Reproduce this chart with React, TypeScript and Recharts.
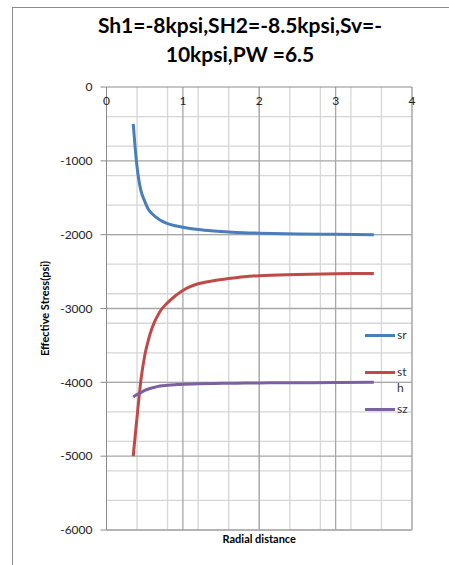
import { LineChart, Line, XAxis, YAxis, CartesianGrid, Legend, ReferenceLine } from "recharts";

// radial distance (x) and effective stresses (psi)
const radius = [0.35, 0.375, 0.4, 0.425, 0.45, 0.5, 0.55, 0.6, 0.7, 0.8, 0.9, 1.0, 1.2, 1.4, 1.6, 1.8, 2.0, 2.5, 3.0, 3.5];
const sr = [-500, -820, -1080, -1270, -1400, -1545, -1660, -1720, -1800, -1850, -1880, -1900, -1930, -1950, -1965, -1975, -1980, -1990, -1995, -2000];
const st = [-5000, -4730, -4470, -4210, -3975, -3640, -3420, -3255, -3040, -2920, -2830, -2755, -2665, -2625, -2595, -2570, -2555, -2540, -2530, -2525];
const sz = [-4200, -4180, -4165, -4152, -4140, -4110, -4090, -4075, -4050, -4040, -4032, -4025, -4020, -4015, -4012, -4010, -4008, -4005, -4002, -4000];

const xTicks = [0, 1, 2, 3, 4];
const yTicks = [0, -1000, -2000, -3000, -4000, -5000, -6000];

const series = [
  { key: "sr", name: "sr", color: "#4a7ebb" },
  { key: "st", name: "sth", color: "#be4b48" },
  { key: "sz", name: "sz", color: "#7d60a0" },
];

const data = radius.map((r, i) => ({ r, sr: sr[i], st: st[i], sz: sz[i] }));

// minor grid every 0.2 / 200; the labelled ticks get darker reference lines
const gridX = Array.from({ length: 20 }, (_, i) => Math.round((i + 1) * 2) / 10);
const gridY = Array.from({ length: 30 }, (_, i) => -(i + 1) * 200);

const font = "Lato, 'Open Sans', sans-serif";
const axisTick = { fontSize: 12, fill: "#222", fontFamily: font };
const majorStroke = "#a6a6a6";

function LegendBox() {
  return (
    <div style={{ fontFamily: font, fontSize: 12, color: "#333", lineHeight: "16px" }}>
      {series.map((s) => (
        <div key={s.key} style={{ display: "flex", alignItems: "flex-start", height: 37 }}>
          <span style={{ width: 30, height: 3, marginTop: 7, background: s.color, display: "inline-block" }} />
          <span style={{ marginLeft: 2, width: 14, wordBreak: "break-all" }}>{s.name}</span>
        </div>
      ))}
    </div>
  );
}

export default function App() {
  return (
    <div style={{ position: "absolute", left: 0, top: 0, width: 449, height: 565, background: "#fff", overflow: "hidden" }}>
      <div
        style={{
          position: "absolute",
          left: 12,
          top: 7,
          width: 460,
          height: 600,
          borderTop: "1px solid #8c8c8c",
          borderLeft: "1px solid #8c8c8c",
        }}
      />
      <div
        style={{
          position: "absolute",
          left: 0,
          top: 10,
          width: 480,
          textAlign: "center",
          fontFamily: font,
          fontWeight: 700,
          fontSize: 21,
          lineHeight: "29px",
          color: "#000",
        }}
      >
        <div>Sh1=-8kpsi,SH2=-8.5kpsi,Sv=-</div>
        <div>10kpsi,PW =6.5</div>
      </div>
      <div style={{ position: "absolute", left: 0, top: 0 }}>
        <LineChart width={449} height={565} data={data} margin={{ top: 67, right: 37, left: 20, bottom: 10 }}>
          <CartesianGrid xAxisId="top" verticalValues={gridX} horizontalValues={gridY} stroke="#d6d6d6" strokeWidth={1.3} />
          {xTicks.slice(1).map((v) => (
            <ReferenceLine key={`vx${v}`} xAxisId="top" x={v} stroke={majorStroke} strokeWidth={1.3} />
          ))}
          {yTicks.slice(1).map((v) => (
            <ReferenceLine key={`hy${v}`} xAxisId="top" y={v} stroke={majorStroke} strokeWidth={1.3} />
          ))}
          <XAxis
            xAxisId="top"
            orientation="top"
            dataKey="r"
            type="number"
            domain={[0, 4]}
            ticks={xTicks}
            height={20}
            tickLine={false}
            axisLine={{ stroke: "#8c8c8c" }}
            tick={{ ...axisTick, dy: 26 }}
          />
          <XAxis
            xAxisId="bottom"
            orientation="bottom"
            dataKey="r"
            type="number"
            domain={[0, 4]}
            height={25}
            tick={false}
            tickLine={false}
            axisLine={false}
            label={{ value: "Radial distance", position: "insideTop", offset: 5, style: { fontFamily: font, fontWeight: 700, fontSize: 11, fill: "#000" } }}
          />
          <YAxis
            type="number"
            domain={[-6000, 0]}
            ticks={yTicks}
            width={86.5}
            tickSize={6}
            tickMargin={8}
            tickLine={{ stroke: "#8c8c8c" }}
            axisLine={{ stroke: "#8c8c8c" }}
            tick={axisTick}
            label={{
              value: "Effective Stress(psi)",
              angle: -90,
              position: "insideLeft",
              offset: 25,
              style: { textAnchor: "middle", fontFamily: font, fontWeight: 700, fontSize: 11, fill: "#000" },
            }}
          />
          <Legend
            layout="vertical"
            align="center"
            verticalAlign="middle"
            content={() => <LegendBox />}
            wrapperStyle={{ position: "absolute", left: 365, top: 327, width: 60 }}
          />
          {series.map((s) => (
            <Line
              key={s.key}
              xAxisId="top"
              type="monotone"
              dataKey={s.key}
              name={s.name}
              stroke={s.color}
              strokeWidth={3}
              dot={false}
              isAnimationActive={false}
            />
          ))}
        </LineChart>
      </div>
    </div>
  );
}
